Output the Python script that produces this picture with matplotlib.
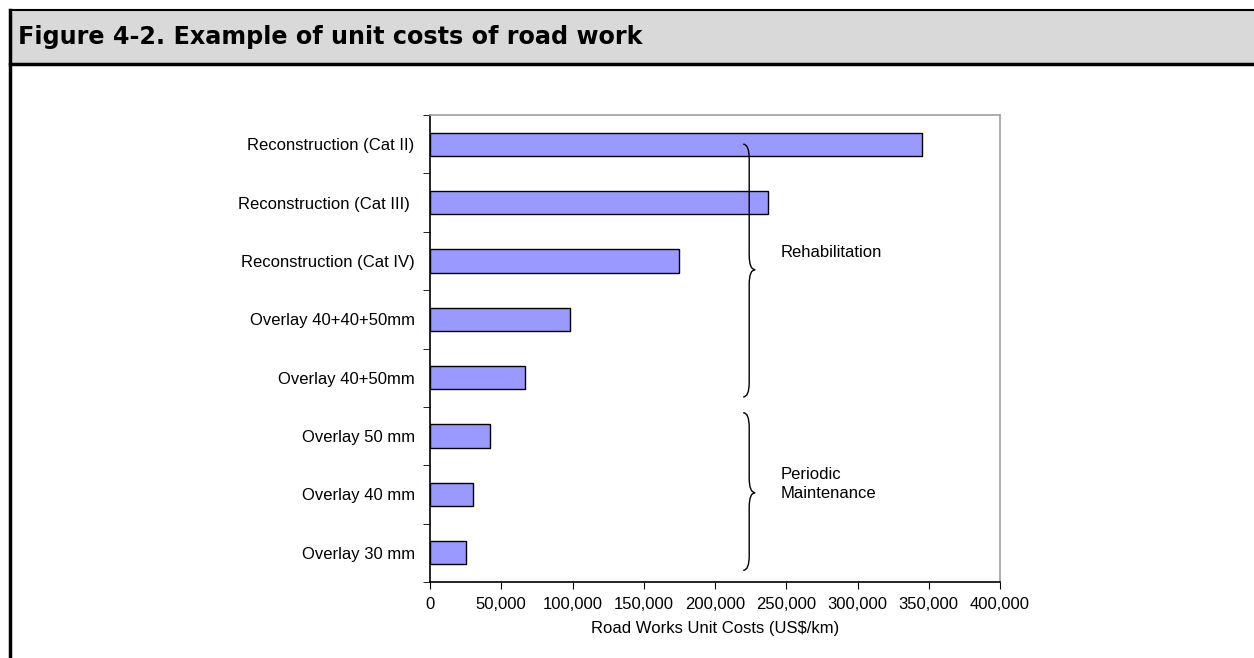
import numpy as np
import matplotlib.pyplot as plt
from matplotlib.path import Path
from matplotlib.patches import PathPatch, Rectangle
from matplotlib.ticker import FuncFormatter

categories = ["Reconstruction (Cat II)", "Reconstruction (Cat III) ", "Reconstruction (Cat IV)",
              "Overlay 40+40+50mm", "Overlay 40+50mm", "Overlay 50 mm", "Overlay 40 mm", "Overlay 30 mm"]
costs = [345000, 237000, 175000, 98000, 67000, 42000, 30000, 25000]

# brace groups: (label, top, bottom, tip) in category units
groups = [("Rehabilitation", 0.0, 4.33, 2.15),
          ("Periodic\nMaintenance", 4.6, 7.3, 5.97)]
brace_x = 224000

plt.rcParams['font.family'] = ['Liberation Sans', 'DejaVu Sans']

fig = plt.figure(figsize=(12.54, 6.58), dpi=100)

# header band and frame
fig.patches.append(Rectangle((10 / 1254, 1 - 64 / 658), 1.0, 54 / 658, transform=fig.transFigure,
                             facecolor='#d9d9d9', edgecolor='none'))
fig.lines.append(plt.Line2D([10 / 1254, 1], [1 - 10 / 658] * 2, transform=fig.transFigure, color='black', lw=1.5))
fig.lines.append(plt.Line2D([10 / 1254, 1], [1 - 64 / 658] * 2, transform=fig.transFigure, color='black', lw=2.5))
fig.lines.append(plt.Line2D([10 / 1254] * 2, [0, 1 - 10 / 658], transform=fig.transFigure, color='black', lw=2.5))
fig.text(18 / 1254, 1 - 37 / 658, "Figure 4-2. Example of unit costs of road work", family='DejaVu Sans',
         fontweight='bold', fontsize=17.2, va='center', ha='left')

ax = fig.add_axes([430 / 1254, 1 - 582 / 658, 570 / 1254, 467 / 658])
y = np.arange(len(categories))
ax.barh(y, costs, height=0.4, color='#9999ff', edgecolor='black', linewidth=1)
ax.set_ylim(len(categories) - 0.5, -0.5)
ax.set_xlim(0, 400000)
ax.set_yticks(y)
ax.set_yticklabels(categories, fontsize=12)
ax.set_yticks(np.arange(-0.5, len(categories)), minor=True)
ax.tick_params(axis='y', which='major', length=0, pad=11)
ax.tick_params(axis='y', which='minor', length=5, direction='out')
ax.set_xticks(np.arange(0, 400001, 50000))
ax.xaxis.set_major_formatter(FuncFormatter(lambda v, p: f"{int(v):,}"))
ax.tick_params(axis='x', length=5, direction='out', labelsize=12, pad=6)
ax.set_xlabel("Road Works Unit Costs (US$/km)", fontsize=12, labelpad=6)
for s in ['top', 'right']:
    ax.spines[s].set_color('#a0a0a0')
    ax.spines[s].set_linewidth(1.2)
for s in ['left', 'bottom']:
    ax.spines[s].set_linewidth(1.2)


def brace(x0, top, bot, tip, w=7000, r=0.25):
    verts = [(x0 - w * 0.6, top), (x0, top), (x0, top + r),
             (x0, tip - r),
             (x0, tip), (x0 + w * 0.6, tip),
             (x0, tip), (x0, tip + r),
             (x0, bot - r),
             (x0, bot), (x0 - w * 0.6, bot)]
    codes = [Path.MOVETO, Path.CURVE3, Path.CURVE3, Path.LINETO,
             Path.CURVE3, Path.CURVE3, Path.CURVE3, Path.CURVE3,
             Path.LINETO, Path.CURVE3, Path.CURVE3]
    return PathPatch(Path(verts, codes), facecolor='none', edgecolor='black', lw=1, clip_on=False)


for label, top, bot, tip in groups:
    ax.add_patch(brace(brace_x, top, bot, tip))
    ax.text(brace_x + 22000, tip - 0.3 if '\n' not in label else tip - 0.15, label, fontsize=12,
            va='center', ha='left', linespacing=1.3)

fig.savefig("out.png", dpi=100)
